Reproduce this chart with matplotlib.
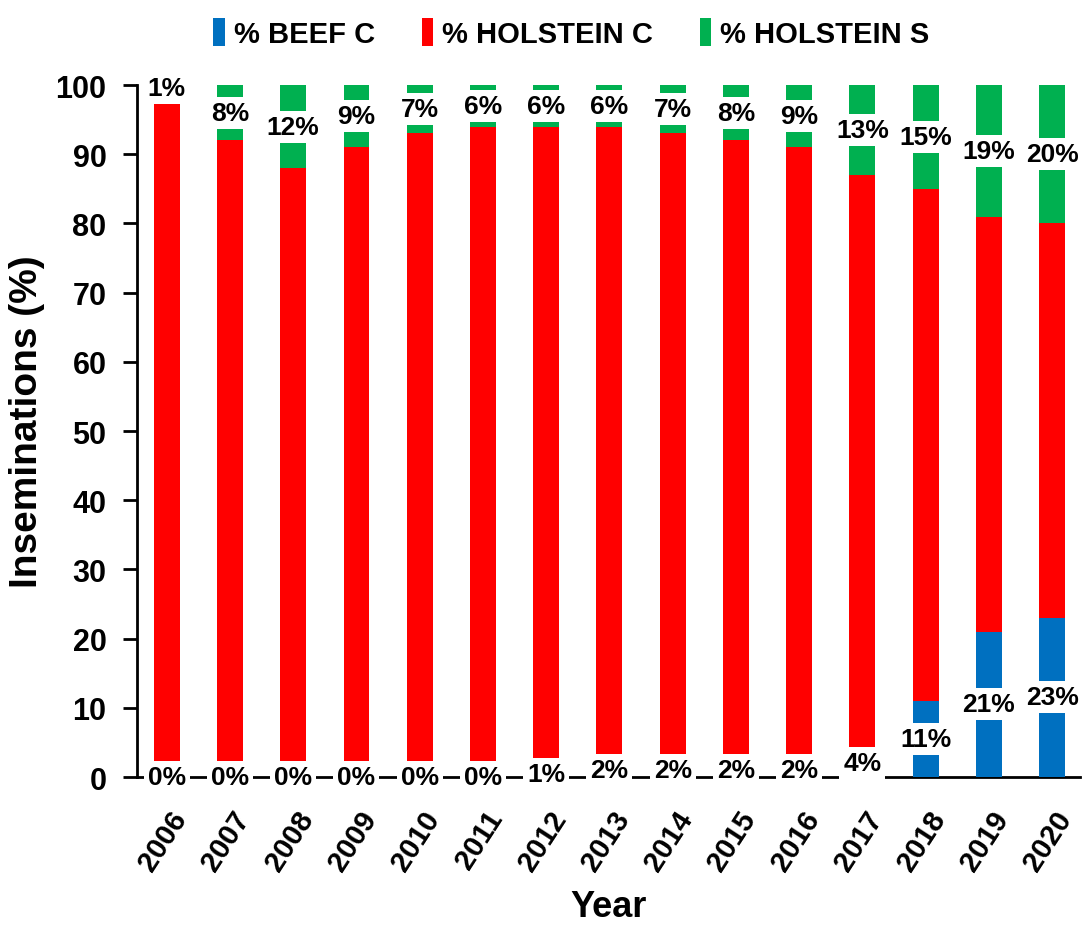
import matplotlib
matplotlib.use("Agg")
import matplotlib.pyplot as plt
import matplotlib.transforms as mtransforms
import numpy as np

years = ["2006", "2007", "2008", "2009", "2010", "2011", "2012", "2013",
         "2014", "2015", "2016", "2017", "2018", "2019", "2020"]
beef_c = [0, 0, 0, 0, 0, 0, 1, 2, 2, 2, 2, 4, 11, 21, 23]
holstein_s = [1, 8, 12, 9, 7, 6, 6, 6, 7, 8, 9, 13, 15, 19, 20]
holstein_c = [100 - b - s for b, s in zip(beef_c, holstein_s)]
series_names = ["% BEEF C", "% HOLSTEIN C", "% HOLSTEIN S"]
colors = ["#0070C0", "#FF0000", "#00B050"]

plt.rcParams["font.family"] = ["Liberation Sans", "DejaVu Sans"]
plt.rcParams["font.weight"] = "bold"

fig = plt.figure(figsize=(10.84, 9.29), dpi=100)
ax = fig.add_axes([0.1264, 0.1625, 0.8699, 0.7449])

x = np.arange(len(years))
w = 0.41
b1 = ax.bar(x, beef_c, w, color=colors[0], label=series_names[0], zorder=2)
b2 = ax.bar(x, holstein_c, w, bottom=beef_c, color=colors[1], label=series_names[1], zorder=2)
bot3 = [b + c for b, c in zip(beef_c, holstein_c)]
b3 = ax.bar(x, holstein_s, w, bottom=bot3, color=colors[2], label=series_names[2], zorder=2)

bbox = dict(boxstyle="square,pad=0.15", fc="white", ec="none")
for i in range(len(years)):
    ax.text(x[i], beef_c[i] / 2, f"{beef_c[i]}%", ha="center", va="center",
            fontsize=19, fontweight="bold", bbox=bbox, zorder=5)
    ax.text(x[i], bot3[i] + holstein_s[i] / 2, f"{holstein_s[i]}%", ha="center",
            va="center", fontsize=19, fontweight="bold", bbox=bbox, zorder=5)

ax.set_xlim(-0.47, 14.44)
ax.set_ylim(0, 100)
ax.set_yticks(range(0, 101, 10))
ax.tick_params(axis="y", labelsize=22, length=10, width=2, pad=12)
ax.tick_params(axis="x", length=0, labelsize=21, pad=26)
ax.set_xticks(x)
ax.set_xticklabels(years, rotation=57, ha="right", va="center",
                   rotation_mode="anchor", fontweight="bold")
offset = mtransforms.ScaledTranslation(10 / 72, 0, fig.dpi_scale_trans)
for lab in ax.get_xticklabels():
    lab.set_transform(lab.get_transform() + offset)
for lab in ax.get_yticklabels():
    lab.set_fontweight("bold")

for s in ["top", "right"]:
    ax.spines[s].set_visible(False)
ax.spines["left"].set_linewidth(2)
ax.spines["bottom"].set_linewidth(2)
ax.spines["bottom"].set_zorder(1)

ax.set_ylabel("Inseminations (%)", fontsize=28, fontweight="bold")
ax.yaxis.set_label_coords(-0.098, 0.515)
ax.set_xlabel("Year", fontsize=26, fontweight="bold")
ax.xaxis.set_label_coords(0.5, -0.162)

leg = fig.legend(handles=[b1, b2, b3], labels=series_names, loc="upper center",
                 bbox_to_anchor=(0.527, 1.008), ncol=3, frameon=False, fontsize=21,
                 handlelength=0.4, handleheight=1.1, handletextpad=0.3, columnspacing=1.6)
for t in leg.get_texts():
    t.set_fontweight("bold")

fig.savefig("out.png", dpi=100)
